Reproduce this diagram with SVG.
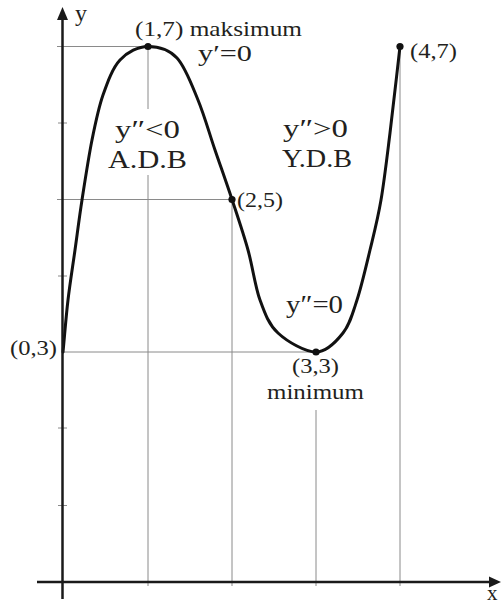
<svg xmlns="http://www.w3.org/2000/svg" width="501" height="605" viewBox="0 0 501 605">
<style>
.grid{stroke:#8a8a8a;stroke-width:1;fill:none}
.axis{stroke:#1a1a1a;stroke-width:2.5;fill:none}
.curve{stroke:#111;stroke-width:3;fill:none;stroke-linejoin:round;stroke-linecap:round}
.pt{fill:#111}
.s{font-size:21px}
.b{font-size:25px}
</style>
<rect width="501" height="605" fill="#fff"/>
<g id="grid">
<line class="grid" x1="57" y1="46.5" x2="148" y2="46.5"/>
<line class="grid" x1="57" y1="199.5" x2="232" y2="199.5"/>
<line class="grid" x1="63" y1="352" x2="316" y2="352"/>
<line class="grid" x1="148" y1="46.5" x2="148" y2="109"/>
<line class="grid" x1="148" y1="175" x2="148" y2="586"/>
<line class="grid" x1="232" y1="199.5" x2="232" y2="586"/>
<line class="grid" x1="316" y1="410" x2="316" y2="586"/>
<line class="grid" x1="400" y1="46.5" x2="400" y2="586"/>
<line class="grid" x1="58" y1="123" x2="67" y2="123"/>
<line class="grid" x1="58" y1="276" x2="67" y2="276"/>
<line class="grid" x1="58" y1="428" x2="67" y2="428"/>
<line class="grid" x1="58" y1="505.5" x2="67" y2="505.5"/>
</g>
<g id="curve">
<path class="curve" d="M63,352 C64.67,334.7 66,317 68,300 C70,283 72.67,266.67 75,250 C77.33,233.33 79.17,218.33 82,200 C84.83,181.67 88.5,157.5 92,140 C95.5,122.5 98.33,108.33 103,95 C107.67,81.67 112.5,68.08 120,60 C127.5,51.92 138.5,46.5 148,46.5 C157.5,46.5 168.67,49.08 177,58 C185.33,66.92 191.67,84.67 198,100 C204.33,115.33 209.33,133.42 215,150 C220.67,166.58 226.5,182.83 232,199.5 C237.5,216.17 243.33,233.25 248,250 C252.67,266.75 255,286.17 260,300 C265,313.83 268.67,324.33 278,333 C287.33,341.67 305.17,352 316,352 C326.83,352 336.17,341.67 343,333 C349.83,324.33 352.5,313.83 357,300 C361.5,286.17 366,266.67 370,250 C374,233.33 377.67,219.5 381,200 C384.33,180.5 386.83,158.58 390,133 C393.17,107.42 396.67,75.33 400,46.5"/>
</g>
<g font-family="Liberation Serif, Times New Roman, serif" fill="#231f20">
<g id="axes">
<line class="axis" x1="62.5" y1="16" x2="62.5" y2="599"/>
<polygon points="62.5,7 57,20 68,20" fill="#1a1a1a"/>
<line class="axis" x1="37" y1="582" x2="492" y2="582"/>
<polygon points="501,582 489,576.5 489,587.5" fill="#1a1a1a"/>
<text x="75" y="21" font-size="24">y</text>
<text x="487" y="600" font-size="21">x</text>
</g>
<g id="p-max">
<circle class="pt" cx="148" cy="46.5" r="3.6"/>
<text class="s" x="135" y="36" textLength="167" lengthAdjust="spacingAndGlyphs">(1,7) maksimum</text>
<text class="s" x="198" y="61" style="font-size:23px" textLength="54" lengthAdjust="spacingAndGlyphs">y′=0</text>
</g>
<g id="p-end">
<circle class="pt" cx="400" cy="46.5" r="3.6"/>
<text class="s" x="410" y="58" textLength="47" lengthAdjust="spacingAndGlyphs">(4,7)</text>
</g>
<g id="p-infl">
<circle class="pt" cx="232" cy="199.5" r="3.6"/>
<text class="s" x="237" y="207" textLength="46" lengthAdjust="spacingAndGlyphs">(2,5)</text>
</g>
<g id="p-min">
<circle class="pt" cx="316" cy="352" r="3.6"/>
<text class="s" x="292" y="373" textLength="47" lengthAdjust="spacingAndGlyphs">(3,3)</text>
<text class="s" x="267" y="399" textLength="97" lengthAdjust="spacingAndGlyphs">minimum</text>
<text class="b" x="286" y="313" textLength="57" lengthAdjust="spacingAndGlyphs">y″=0</text>
</g>
<g id="p-start">
<text class="s" x="10" y="355" textLength="47" lengthAdjust="spacingAndGlyphs">(0,3)</text>
</g>
<g id="region-left">
<text class="b" x="115" y="138" textLength="65" lengthAdjust="spacingAndGlyphs">y″&lt;0</text>
<text class="b" x="108" y="168" textLength="79" lengthAdjust="spacingAndGlyphs">A.D.B</text>
</g>
<g id="region-right">
<text class="b" x="283" y="137" textLength="65" lengthAdjust="spacingAndGlyphs">y″&gt;0</text>
<text class="b" x="282" y="167" textLength="70" lengthAdjust="spacingAndGlyphs">Y.D.B</text>
</g>
</g>
</svg>
